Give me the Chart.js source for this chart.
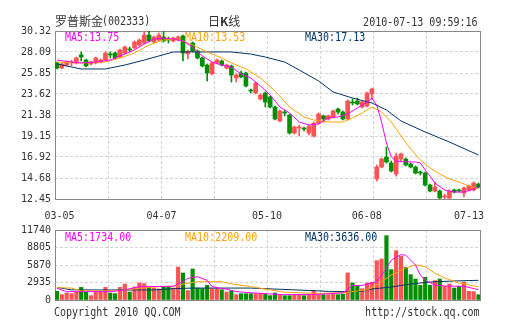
<!DOCTYPE html>
<html>
<head>
<meta charset="utf-8">
<title>罗普斯金(002333) 日K线</title>
<script src="https://cdn.jsdelivr.net/npm/chart.js@4.4.1/dist/chart.umd.min.js"></script>
<style>
  html, body { margin: 0; padding: 0; background: #fff; }
  #box { position: relative; width: 505px; height: 330px; overflow: hidden; color: #333; }
  canvas { position: absolute; left: 0; top: 0; }
  .m { position: absolute; white-space: nowrap; font-family: 'DejaVu Sans Mono', monospace; font-size: 11.5px; line-height: 12px; transform: scaleX(0.87); transform-origin: 0 50%; }
  .m.r { transform-origin: 100% 50%; }
  .c { position: absolute; white-space: nowrap; font-family: 'Noto Sans CJK SC', sans-serif; font-size: 12px; line-height: 14px; }
</style>
</head>
<body>
<div id="box">
  <canvas id="kline" width="505" height="330"></canvas>
  <canvas id="vol" width="505" height="330"></canvas>
  <div class="c" style="left:55px;top:14px">罗普斯金</div>
  <div class="m" style="left:102px;top:15px">(002333)</div>
  <div class="c" style="left:208px;top:14px">日<b>K</b>线</div>
  <div class="m r" style="right:27px;top:16px">2010-07-13 09:59:16</div>
  <div class="m" style="left:65px;top:31px;color:#ff00ff">MA5:13.75</div>
  <div class="m" style="left:185px;top:31px;color:#ffa200">MA10:13.53</div>
  <div class="m" style="left:305px;top:31px;color:#003366">MA30:17.13</div>
  <div class="m" style="left:65px;top:231px;color:#ff00ff">MA5:1734.00</div>
  <div class="m" style="left:185px;top:231px;color:#ffa200">MA10:2209.00</div>
  <div class="m" style="left:305px;top:231px;color:#003366">MA30:3636.00</div>
  <div class="m" style="left:54px;top:306px">Copyright 2010 QQ.COM</div>
  <div class="m r" style="right:25px;top:306px">http://stock.qq.com</div>
</div>
<script>
// daily candles 2010-03-05 .. 2010-07-13 (88 trading days)
const xLabels = ['03-05', '04-07', '05-10', '06-08', '07-13'];
const priceTicks = [12.45, 14.68, 16.92, 19.15, 21.38, 23.62, 25.85, 28.09, 30.32];
const volTicks = [0, 2935, 5870, 8805, 11740];

const open = [26.92,26.38,26.70,26.92,26.92,27.77,27.23,26.81,26.92,27.02,
  27.23,27.87,27.98,27.55,27.98,28.41,28.51,28.83,29.04,29.89,
  29.15,29.36,29.68,29.47,29.26,29.36,29.79,27.87,29.04,28.19,
  27.45,26.70,25.75,26.92,27.13,26.38,26.60,25.32,25.85,25.85,
  24.04,23.72,23.09,23.72,23.30,22.24,20.75,21.70,21.38,19.47,
  20.00,20.00,19.47,19.15,20.53,21.28,20.96,21.17,22.02,21.70,
  20.96,22.77,22.87,22.24,22.34,23.62,14.58,15.85,16.92,16.28,
  15.11,16.70,16.70,16.17,15.85,15.32,15.21,13.94,13.30,13.30,
  12.66,12.56,13.41,13.41,13.09,13.41,13.41,14.04];
const high = [27.02,26.92,27.13,27.23,27.55,28.09,27.34,27.13,27.55,27.34,
  28.09,28.09,28.09,28.41,28.72,28.62,29.26,29.47,30.32,30.30,
  29.79,30.11,30.30,29.68,29.68,29.79,29.89,28.30,29.15,28.30,
  27.55,26.81,27.02,27.34,27.23,26.81,26.70,25.75,26.07,25.96,
  24.15,24.89,23.62,23.83,23.41,22.34,21.92,21.92,21.49,20.21,
  20.32,20.11,20.32,20.64,21.60,21.38,21.38,21.92,22.13,21.81,
  22.98,23.09,23.19,22.87,23.83,24.26,16.07,16.81,17.98,16.49,
  17.34,17.34,16.81,16.28,15.96,15.43,15.32,14.04,14.26,13.41,
  12.98,13.41,13.51,13.51,13.72,13.94,14.26,14.15];
const low = [26.28,26.28,26.60,26.60,26.81,27.13,26.49,26.70,26.81,26.92,
  27.13,27.45,27.34,27.45,27.87,28.09,28.41,28.72,28.94,29.15,
  29.04,29.26,29.15,29.04,29.15,29.26,27.13,27.34,28.09,27.34,
  26.49,25.00,25.64,26.81,26.60,26.28,24.89,24.89,25.32,24.36,
  23.72,23.62,22.98,22.24,22.13,20.85,20.64,21.28,19.36,19.36,
  19.15,19.68,19.26,19.04,20.43,20.64,20.85,21.07,21.49,20.85,
  20.85,22.45,22.45,22.13,22.24,22.98,14.36,15.75,16.28,15.32,
  14.89,16.49,15.96,15.75,15.11,15.00,13.83,13.19,13.19,12.45,
  12.45,12.45,13.09,13.19,12.66,13.30,13.30,13.62];
const close = [26.38,26.81,27.02,27.02,27.45,27.55,26.60,27.02,27.45,27.23,
  27.98,27.77,27.45,28.30,28.62,28.30,29.15,29.36,29.89,29.26,
  29.68,29.89,29.26,29.36,29.57,29.68,27.98,28.19,28.19,27.45,
  26.60,25.85,26.92,27.23,26.70,26.70,25.64,25.64,25.43,24.47,
  23.94,24.79,23.51,22.77,22.24,20.96,21.81,21.60,19.47,20.11,
  20.11,19.89,20.21,20.53,21.49,20.96,21.28,21.81,21.70,20.96,
  22.87,22.66,22.56,22.77,23.72,24.15,15.85,16.70,16.39,15.43,
  17.02,17.24,16.07,15.85,15.21,15.21,13.94,13.30,13.72,12.56,
  12.77,13.30,13.19,13.30,13.62,13.83,14.15,13.72];
const volume = [1450,890,1170,1060,1340,2120,1340,730,1340,1450,
  2120,1170,1060,2120,2680,1340,2180,2850,2740,2120,
  2000,1850,2290,2290,2010,5530,4530,1570,5200,2010,
  1900,2460,1900,1900,1730,1340,1570,890,1060,1060,
  1060,1060,1170,1010,730,1170,890,730,730,890,
  890,730,890,1620,890,890,890,1060,890,1000,
  4530,2850,2290,1900,2850,2960,6600,6880,10790,5090,
  8270,7320,5480,4250,3520,2460,3800,2460,3240,3520,
  2290,2680,2010,2290,3020,1450,1400,890];

// moving average lines (day index, value)
const ma5At = [0,3,5,8,11,13,16,18,20,22,24,26,28,29,30,32,34,36,38,40,42,44,46,48,50,52,54,56,58,60,62,64,65,66,67,68,69,70,72,74,75,76,77,78,80,82,84,86,87];
const ma5 = [27.23,27.02,26.92,27.02,27.23,27.66,28.30,28.94,29.47,29.57,29.47,29.26,28.62,28.09,27.66,27.02,26.70,26.49,25.75,25.32,24.47,23.51,22.24,21.60,20.64,20.32,20.43,21.07,21.17,21.49,22.13,22.77,23.19,22.45,20.64,18.40,16.92,16.49,16.39,16.39,16.28,15.53,14.89,14.15,13.41,13.19,13.19,13.51,13.75];
const ma10At = [0,5,10,13,16,19,22,25,28,31,34,36,39,42,45,48,51,53,56,59,61,63,65,67,69,71,73,75,77,79,81,83,85,87];
const ma10 = [27.02,26.92,27.02,27.45,27.98,28.83,29.36,29.47,28.83,28.09,27.45,26.92,26.28,25.32,23.94,22.24,21.17,20.85,20.64,20.64,21.07,21.60,22.24,21.70,20.64,19.15,17.77,16.60,15.75,15.11,14.58,14.26,13.83,13.53];
const ma30At = [0,3,5,10,14,18,21,24,30,36,40,43,47,50,54,57,61,65,68,71,76,81,87];
const ma30 = [26.81,26.49,26.28,26.28,26.70,27.23,27.66,28.09,28.09,28.09,27.87,27.55,27.02,26.17,25.00,23.83,23.19,22.66,21.92,20.75,19.58,18.51,17.13];

const vma5At = [0,2,11,14,17,24,26,27,29,31,32,35,37,42,47,54,59,61,63,65,66,68,69,71,72,74,75,76,78,80,84,87];
const vma5 = [1960,1400,1400,1680,2240,2300,3070,3630,3900,3300,2240,1800,1400,1100,900,950,1200,2400,2450,2850,3070,5370,6700,7600,7500,5870,4200,3300,2500,2350,2300,1734];
const vma10At = [0,3,5,11,14,17,21,24,26,29,34,36,40,42,47,54,59,62,64,66,69,72,74,76,78,80,83,87];
const vma10 = [2070,2000,1510,1510,1680,1960,2240,2300,2680,3070,3070,2700,2240,1960,1300,1100,1230,1500,1680,2520,4190,5370,5900,5600,4500,3690,2850,2209];
const vma30At = [0,3,10,20,24,28,36,40,46,52,56,60,63,65,69,73,77,82,87];
const vma30 = [2120,1700,1680,1680,1900,2000,2000,2000,1800,1600,1450,1390,1450,1850,2180,2680,3020,3190,3300];

const RED = '#ff5353', GREEN = '#008f00';
const MA5C = '#ff00ff', MA10C = '#ffa200', MA30C = '#003366';
const TXT = '#333';
const GRID = '#d4d4d4';
const font = { family: "'DejaVu Sans Mono', monospace", size: 10 };

const idx = close.map((c, i) => i);
const colors = idx.map(i => close[i] >= open[i] ? RED : GREEN);

const X_MIN = -0.41, X_MAX = 87.31;

function maLine(at, vals, color) {
  return {
    type: 'line',
    data: at.map((x, k) => ({ x: x, y: vals[k] })),
    borderColor: color, borderWidth: 1,
    pointRadius: 0, tension: 0, fill: false
  };
}

function gridX() {
  return {
    type: 'linear', min: X_MIN, max: X_MAX, offset: false,
    afterBuildTicks: s => {
      const step = (X_MAX - X_MIN) / 8;
      s.ticks = [];
      for (let k = 0; k <= 8; k++) s.ticks.push({ value: X_MIN + k * step });
    },
    afterFit: s => { s.height = 0; },
    ticks: { display: false },
    grid: { color: GRID, drawTicks: false, offset: false },
    border: { display: false, dash: [3, 2] }
  };
}

function valueAxis(min, max, tickVals, fmt) {
  return {
    min: min, max: max,
    afterBuildTicks: s => { s.ticks = tickVals.map(v => ({ value: v })); },
    afterFit: s => { s.width = 55; },
    ticks: { callback: fmt, padding: 4, autoSkip: false, font: font, color: TXT },
    grid: { color: GRID, drawTicks: false },
    border: { display: false, dash: [3, 2] }
  };
}

// grey frame round the plot area
const frame = {
  id: 'frame',
  beforeDatasetsDraw(chart) {
    const a = chart.chartArea, ctx = chart.ctx;
    ctx.save();
    ctx.strokeStyle = '#888';
    ctx.lineWidth = 1;
    ctx.strokeRect(a.left + 0.5, a.top + 0.5, a.right - a.left, a.bottom - a.top);
    ctx.restore();
  }
};

const common = {
  responsive: false,
  animation: false,
  events: [],
  plugins: { legend: { display: false }, tooltip: { enabled: false } }
};

new Chart(document.getElementById('kline'), {
  type: 'bar',
  data: {
    datasets: [
      maLine(ma5At, ma5, MA5C),
      maLine(ma10At, ma10, MA10C),
      maLine(ma30At, ma30, MA30C),
      { data: idx.map(i => ({ x: i, y: [open[i], close[i]] })), backgroundColor: colors,
        barThickness: 4, grouped: false, minBarLength: 1 },
      { data: idx.map(i => ({ x: i, y: [low[i], high[i]] })), backgroundColor: colors,
        barThickness: 1, grouped: false }
    ]
  },
  options: Object.assign({}, common, {
    layout: { padding: { left: 0, top: 31, right: 25, bottom: 107 } },
    scales: {
      x: gridX(),
      xl: {
        type: 'linear', position: 'bottom', min: X_MIN, max: X_MAX, offset: false,
        afterBuildTicks: s => { s.ticks = [0.52, 21.57, 43.35, 63.92, 85.04].map(v => ({ value: v })); },
        afterFit: s => { s.height = 24; },
        grid: { display: false, drawTicks: false, offset: false },
        border: { display: false },
        ticks: { callback: (v, k) => xLabels[k], padding: 11, maxRotation: 0, autoSkip: false, font: font, color: TXT }
      },
      y: valueAxis(12.45, 30.32, priceTicks, v => v.toFixed(2))
    }
  }),
  plugins: [frame]
});

new Chart(document.getElementById('vol'), {
  type: 'bar',
  data: {
    datasets: [
      maLine(vma5At, vma5, MA5C),
      maLine(vma10At, vma10, MA10C),
      maLine(vma30At, vma30, MA30C),
      { data: idx.map(i => ({ x: i, y: volume[i] })), backgroundColor: colors,
        barThickness: 3.5, grouped: false }
    ]
  },
  options: Object.assign({}, common, {
    layout: { padding: { left: 0, top: 230, right: 25, bottom: 30 } },
    scales: {
      x: gridX(),
      y: valueAxis(0, 11740, volTicks, v => String(v))
    }
  }),
  plugins: [frame]
});
</script>
</body>
</html>
